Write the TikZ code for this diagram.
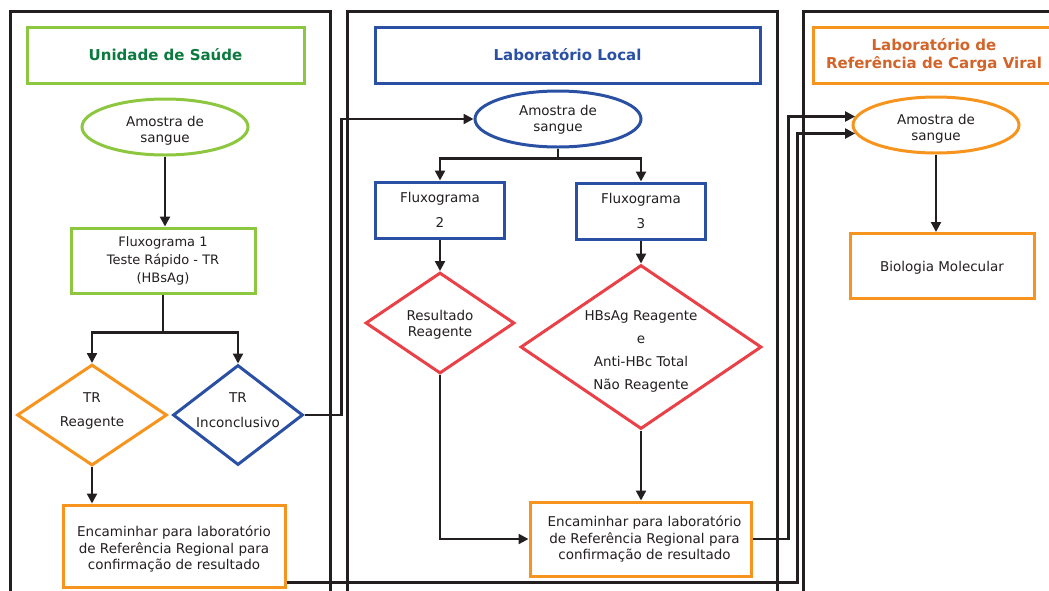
\documentclass[tikz,border=0pt]{standalone}
\usepackage{fontspec}
\setmainfont{DejaVu Sans}
\usetikzlibrary{shapes.geometric,arrows.meta}
\definecolor{ink}{HTML}{231F20}
\definecolor{lgreen}{HTML}{8DC63F}
\definecolor{dgreen}{HTML}{0B7A3E}
\definecolor{nblue}{HTML}{2A50A4}
\definecolor{ora}{HTML}{F7941D}
\definecolor{oratext}{HTML}{D2642A}
\definecolor{rred}{HTML}{EA4148}
\begin{document}
\begin{tikzpicture}[x=1pt,y=-1pt,
  lane/.style={draw=ink,line width=3pt,line join=miter},
  header/.style={draw,line width=3pt,minimum height=56pt,inner sep=0pt,
    font=\fontsize{15}{17.5}\selectfont\bfseries,align=center},
  body/.style={font=\fontsize{13.5}{16.5}\selectfont,align=center,text=ink},
  box/.style={body,draw,line width=3pt,rectangle,inner sep=0pt},
  oval/.style={draw,line width=3pt,ellipse,inner sep=0pt,
    minimum width=166pt,minimum height=56pt},
  test/.style={draw,line width=3pt,diamond,inner sep=0pt},
  link/.style={draw=ink,line width=2.2pt},
  arr/.style={link,-{Triangle[length=10pt,width=10pt]}}]
\useasboundingbox (0,0) rectangle (1049,590);

% swimlane frames, open at the bottom
\draw[lane] (10,595) -- (10,11) -- (330,11) -- (330,595);
\draw[lane] (347,595) -- (347,11) -- (777,11) -- (777,595);
\draw[lane] (803,595) -- (803,11) -- (1060,11);

% lane titles
\node[header,draw=lgreen,text=dgreen,minimum width=277pt] (h1) at (165.5,55) {Unidade de Saúde};
\node[header,draw=nblue,text=nblue,minimum width=385pt] (h2) at (567.5,55) {Laboratório Local};
\node[header,draw=ora,text=oratext,minimum width=242pt] (h3) at (934,55) {Laboratório de\\Referência de Carga Viral};

% Unidade de Saude
\node[oval,draw=lgreen,label={[body,yshift=-4pt]center:{Amostra de\\sangue}}] (e1) at (165,127) {};
\node[box,draw=lgreen,minimum width=184pt,minimum height=65pt,
  font=\fontsize{13}{18}\selectfont] (f1) at (163,260.5)
  {Fluxograma 1\\Teste Rápido - TR\\(HBsAg)};
\node[test,draw=ora,minimum width=150pt,minimum height=101pt,
  label={[body,yshift=4pt]center:{TR\\[8pt]Reagente}}] (d1) at (92,415) {};
\node[test,draw=nblue,minimum width=130pt,minimum height=100pt,
  label={[body,yshift=5pt]center:{TR\\[8pt]Inconclusivo}}] (d2) at (238,415) {};
\node[box,draw=ora,minimum width=222pt,minimum height=82pt,
  label={[body,yshift=-3pt]center:{Encaminhar para laboratório\\de Referência Regional para\\confirmação de resultado}}] (r1) at (174,546) {};

% Laboratorio Local
\node[oval,draw=nblue,label={[body,yshift=-1pt]center:{Amostra de\\sangue}}] (e2) at (558,119) {};
\node[box,draw=nblue,minimum width=129pt,minimum height=56pt] (fl2) at (440,210) {Fluxograma\\[8.5pt]2};
\node[box,draw=nblue,minimum width=129pt,minimum height=56pt] (fl3) at (641,211) {Fluxograma\\[8.5pt]3};
\node[test,draw=rred,minimum width=149pt,minimum height=101pt,
  label={[body,yshift=-2pt]center:{Resultado\\Reagente}}] (d3) at (440,323) {};
\node[test,draw=rred,minimum width=241pt,minimum height=164pt,
  label={[body,yshift=-4pt]center:{HBsAg Reagente\\[6.5pt]e\\[6.5pt]Anti-HBc Total\\[6.5pt]Não Reagente}}] (d4) at (641,347) {};
\node[box,draw=ora,minimum width=221pt,minimum height=74pt,
  label={[body,xshift=4pt]center:{Encaminhar para laboratório\\de Referência Regional para\\confirmação de resultado}}] (r2) at (640.5,539) {};

% Laboratorio de Referencia de Carga Viral
\node[oval,draw=ora,label={[body,yshift=-4pt]center:{Amostra de\\sangue}}] (e3) at (936,125) {};
\node[box,draw=ora,minimum width=184pt,minimum height=65pt,
  label={[body,yshift=-2pt]center:{Biologia Molecular}}] (bm) at (942,266) {};

% connectors, first lane
\draw[arr] (e1.south) -- (e1.south |- f1.north);
\draw[link] (f1.south) -- ++(0,38) coordinate (b1);
\draw[arr] (b1) -| (d1.north);
\draw[arr] (b1) -| (d2.north);
\draw[arr] (d1.south) -- (d1.south |- r1.north);
\draw[arr] (d2.east) -- ++(37,0) |- (e2.west);

% connectors, second lane
\draw[link] (e2.south) -- ++(0,10) coordinate (b2);
\draw[arr] (b2) -| (fl2.north);
\draw[arr] (b2) -| (fl3.north);
\draw[arr] (fl2.south) -- (d3.north);
\draw[arr] (fl3.south) -- (d4.north);
\draw[arr] (d4.south) -- (d4.south |- r2.north);
\draw[arr] (d3.south) |- (r2.west);

% referrals to the viral load laboratory
\draw[arr] (r2.east) -- ++(36,0) |- (e3.174);
\draw[arr] (r1.-18) -- ++(511,0) |- (e3.186);

% third lane
\draw[arr] (e3.south) -- (e3.south |- bm.north);
\end{tikzpicture}
\end{document}
